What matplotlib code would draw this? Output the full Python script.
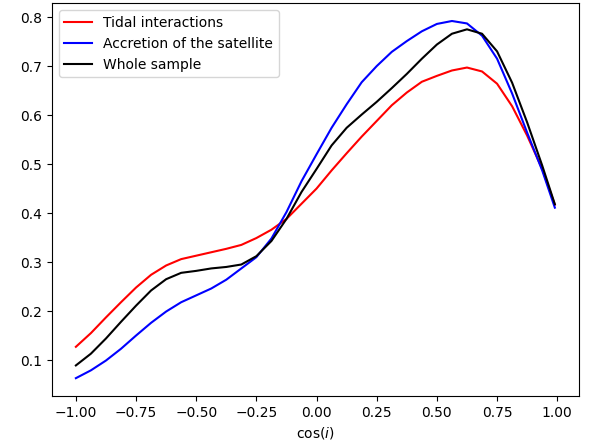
import matplotlib
matplotlib.use('Agg')
from matplotlib import pyplot as plt

# cos(i) grid and the density curves
cos_i = [-1.0, -0.9375, -0.875, -0.8125, -0.75, -0.6875, -0.625, -0.5625,
         -0.5, -0.4375, -0.375, -0.3125, -0.25, -0.1875, -0.125, -0.0625,
         0.0, 0.0625, 0.125, 0.1875, 0.25, 0.3125, 0.375, 0.4375,
         0.5, 0.5625, 0.625, 0.6875, 0.75, 0.8125, 0.875, 0.9375, 0.99]

tidal = [0.127, 0.155, 0.187, 0.218, 0.248, 0.274, 0.293, 0.306,
         0.313, 0.320, 0.327, 0.335, 0.349, 0.366, 0.388, 0.419,
         0.450, 0.487, 0.522, 0.556, 0.588, 0.620, 0.646, 0.668,
         0.680, 0.691, 0.697, 0.689, 0.664, 0.618, 0.558, 0.490, 0.417]

accretion = [0.063, 0.079, 0.099, 0.123, 0.150, 0.176, 0.199, 0.218,
             0.232, 0.246, 0.264, 0.287, 0.310, 0.348, 0.402, 0.465,
             0.520, 0.574, 0.622, 0.667, 0.700, 0.729, 0.751, 0.771,
             0.786, 0.792, 0.787, 0.762, 0.715, 0.644, 0.564, 0.487, 0.411]

whole = [0.089, 0.113, 0.144, 0.178, 0.211, 0.242, 0.265, 0.278,
         0.282, 0.287, 0.290, 0.295, 0.312, 0.343, 0.388, 0.443,
         0.490, 0.538, 0.574, 0.601, 0.627, 0.655, 0.684, 0.715,
         0.744, 0.766, 0.775, 0.766, 0.730, 0.666, 0.585, 0.497, 0.418]

fig = plt.figure(figsize=(5.9, 4.48), dpi=100)
ax = fig.add_axes([0.088, 0.116, 0.893, 0.877])

ax.plot(cos_i, tidal, color='red', label='Tidal interactions')
ax.plot(cos_i, accretion, color='blue', label='Accretion of the satellite')
ax.plot(cos_i, whole, color='black', label='Whole sample')

ax.set_xlabel('cos($i$)')
ax.set_xticks([-1.0, -0.75, -0.5, -0.25, 0.0, 0.25, 0.5, 0.75, 1.0])
ax.legend(loc='upper left')

fig.savefig('out.png', dpi=100)
